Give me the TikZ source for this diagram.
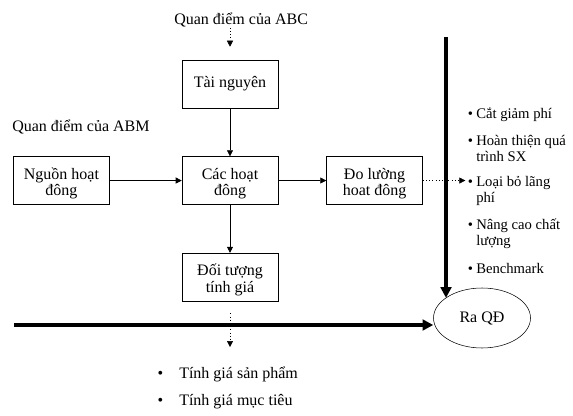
\documentclass[tikz,border=0pt]{standalone}
\usepackage{fontspec}
\setmainfont{Liberation Serif}
\usetikzlibrary{positioning,arrows.meta,shapes.geometric}

\begin{document}
\begin{tikzpicture}[x=0.75pt,y=-0.75pt,node distance=36pt and 36pt,
  font=\fontsize{12}{12.25}\selectfont,
  box/.style={draw,minimum width=72pt,minimum height=36pt,inner sep=0pt,align=center},
  twoline/.style={text height=24pt,text depth=1.5pt},
  arr/.style={-{Triangle[length=4.5pt,width=4.5pt]}},
  dotarr/.style={dotted,-{Triangle[length=4.5pt,width=4.5pt]}},
  bigarr/.style={line width=3pt,-{Triangle[length=8pt,width=8pt]}},
  itm/.style={anchor=base west,align=left,inner sep=0pt,
    font=\fontsize{11}{12}\selectfont}]
\useasboundingbox (0,0) rectangle (573,416);
% khung chinh
\node[box] (tai) at (230,84) {Tài nguyên};
\node[box,twoline,below=of tai] (cac) {Các hoạt\\đông};
\node[box,twoline,left=54pt of cac] (nguon) {Nguồn hoạt\\đông};
\node[box,twoline,right=of cac] (dl) {Đo lường\\hoat đông};
\node[box,twoline,below=of cac] (doi) {Đối tượng\\tính giá};
\node[anchor=base west,inner sep=0pt] (abc) at (174,25) {Quan điểm của ABC};
\node[anchor=base west,inner sep=0pt] (abm) at (12,132) {Quan điểm của ABM};
\node[ellipse,draw,minimum width=72.75pt,minimum height=45pt,inner sep=0pt] (ra) at (482,318) {Ra QĐ\hspace{16pt}};
% danh sach ben phai
\node[itm] (cat) at (476,119) {\llap{\textbullet\hspace{2.5pt}}Cắt giảm phí};
\node[itm,below=32pt of cat.base west,anchor=base west] (hoan) {\llap{\textbullet\hspace{2.5pt}}Hoàn thiện quá\\trình SX};
\node[itm,below=31pt of hoan.base west,anchor=base west] (loai) {\llap{\textbullet\hspace{2.5pt}}Loại bỏ lãng\\phí};
\node[itm,below=31.5pt of loai.base west,anchor=base west] (nang) {\llap{\textbullet\hspace{2.5pt}}Nâng cao chất\\lượng};
\node[itm,below=21pt of nang.base west,anchor=base west] (bench) {\llap{\textbullet\hspace{2.5pt}}Benchmark};
% danh sach ben duoi
\node[anchor=base west,inner sep=0pt] (sp) at (179,378) {\llap{\textbullet\hspace{12pt}}Tính giá sản phẩm};
\node[inner sep=0pt,below=20.25pt of sp.base west,anchor=base west] (mt) {\llap{\textbullet\hspace{12pt}}Tính giá mục tiêu};
\coordinate (dtip) at (230,347);
\coordinate (vtop) at (446,37);
\coordinate (hleft) at (14,325);
% mui ten
\draw[dotarr,shorten >=9.75pt] (abc.south -| tai.north) -- (tai.north);
\draw[arr] (tai) -- (cac);
\draw[arr] (nguon) -- (cac);
\draw[arr] (cac) -- (dl);
\draw[arr] (cac) -- (doi);
\draw[dotarr,shorten <=9pt] (doi) -- (dtip);
\draw[dotarr,shorten >=8pt] (dl) -- (dl -| loai.west);
\draw[bigarr] (vtop) -- (vtop |- ra.151);
\draw[bigarr] (hleft) -- (hleft -| ra.west);
\end{tikzpicture}
\end{document}
